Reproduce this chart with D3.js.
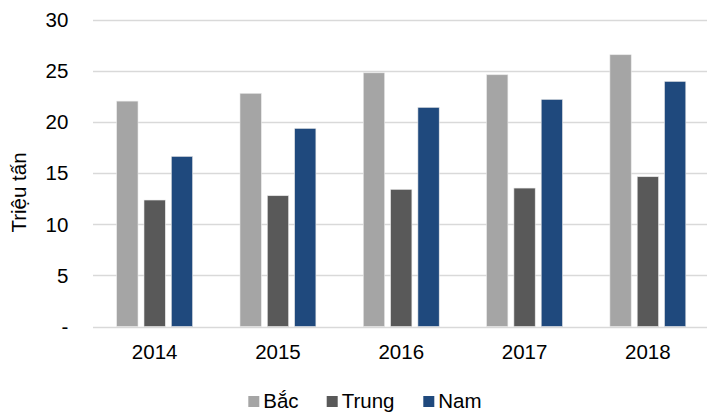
<!DOCTYPE html>
<html><head><meta charset="utf-8">
<script src="https://cdn.jsdelivr.net/npm/d3@7"></script>
<style>body{margin:0;background:#fff}svg{display:block;font-family:"Liberation Sans",Arial,sans-serif}</style>
</head><body><svg id="c" width="707" height="415"></svg>
<script>
const years = ["2014","2015","2016","2017","2018"];
const seriesNames = ["Bắc","Trung","Nam"];
const bac = [22.06, 22.82, 24.83, 24.64, 26.6];
const trung = [12.38, 12.8, 13.42, 13.55, 14.66];
const nam = [16.65, 19.39, 21.45, 22.23, 23.99];
const yTicks = [0,5,10,15,20,25,30];
const yTickLabels = ["-","5","10","15","20","25","30"];
const colors = ["#A5A5A5","#595959","#1F497D"];
const values = [bac, trung, nam];

const svg = d3.select("#c");
const x = d3.scaleBand().domain(years).range([93, 709.5]).paddingInner(0).paddingOuter(0);
const y = d3.scaleLinear().domain([0,30]).range([326.5, 20]);
const bw = 21.3, step = 27.3;
const fs = 20.5;

// gridlines
svg.append("g").selectAll("line").data(yTicks).join("line")
  .attr("x1", 93).attr("x2", 707).attr("y1", d=>Math.round(y(d))+0.5).attr("y2", d=>Math.round(y(d))+0.5)
  .attr("stroke", "#D9D9D9").attr("stroke-width", 1.3);

// y labels
svg.append("g").selectAll("text").data(yTicks).join("text")
  .attr("x", 68.3).attr("y", d=>y(d)).attr("dy","0.35em").attr("text-anchor","end")
  .attr("font-size", fs).attr("fill","#000").text((d,i)=>yTickLabels[i]);

// bars
values.forEach((vals, si) => {
  svg.append("g").selectAll("rect").data(years).join("rect")
    .attr("x", d => x(d) + x.bandwidth()/2 + (si-1)*step - bw/2)
    .attr("y", (d,i) => y(vals[i]))
    .attr("width", bw)
    .attr("height", (d,i) => y(0) - y(vals[i]))
    .attr("fill", colors[si])
    .attr("stroke", "#E8E8E8").attr("stroke-width", 0.6);
});

// x labels
svg.append("g").selectAll("text").data(years).join("text")
  .attr("x", d => x(d) + x.bandwidth()/2).attr("y", 359.3).attr("text-anchor","middle")
  .attr("font-size", fs).attr("fill","#000").text(d=>d);

// y title
svg.append("text").attr("transform","translate(26,192.5) rotate(-90)").attr("text-anchor","middle")
  .attr("font-size", fs).attr("fill","#000").text("Triệu tấn");

// legend
const legX = [248.3, 326.7, 423.3];
const lg = svg.append("g").selectAll("g").data(seriesNames).join("g")
  .attr("transform", (d,i)=>`translate(${legX[i]},0)`);
lg.append("rect").attr("x",0).attr("y",396).attr("width",11).attr("height",11).attr("fill",(d,i)=>colors[i]);
lg.append("text").attr("x",15).attr("y",408.3).attr("font-size",fs).attr("fill","#000").text(d=>d);
</script></body></html>
